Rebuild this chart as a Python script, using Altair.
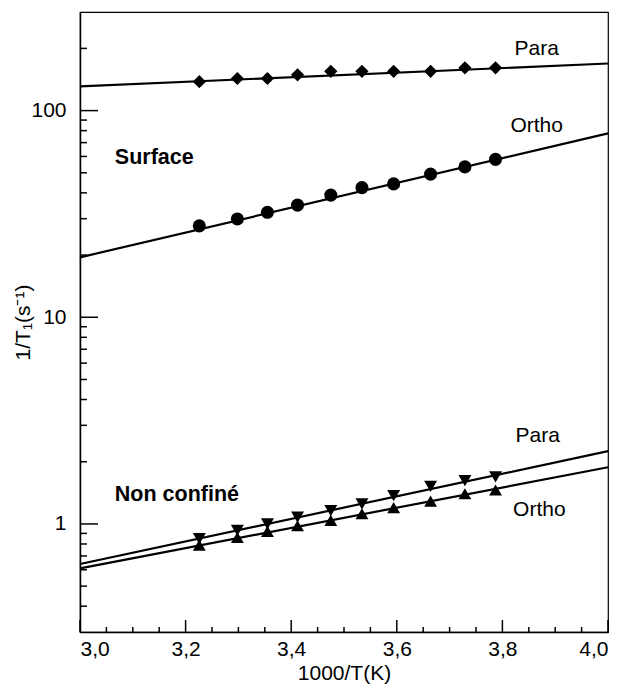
import altair as alt
import pandas as pd

# ---- data ----
x_pts = [3.226, 3.298, 3.355, 3.412, 3.475, 3.534, 3.594, 3.664, 3.729, 3.787]
para_surface = [138, 143, 143, 149, 155, 155, 155, 155, 161, 161]
ortho_surface = [27.7, 29.9, 32.2, 34.9, 39.0, 42.4, 44.2, 49.3, 53.4, 58.1]
para_free = [0.85, 0.93, 1.00, 1.08, 1.16, 1.25, 1.37, 1.52, 1.62, 1.69]
ortho_free = [0.79, 0.86, 0.92, 0.98, 1.04, 1.12, 1.20, 1.29, 1.40, 1.46]

fit_x = [3.0, 4.0]
fit_para_surface = [131, 169]
fit_ortho_surface = [19.5, 77.6]
fit_para_free = [0.64, 2.25]
fit_ortho_free = [0.61, 1.88]

label_text = ["Para", "Ortho", "Para", "Ortho"]
label_x = [3.865, 3.865, 3.867, 3.87]
label_y = [199, 84, 2.66, 1.17]

group_text = ["Surface", "Non confiné"]
group_x = [3.066, 3.066]
group_y = [59, 1.38]

y_major = [1, 10, 100]
y_minor = [0.4, 0.5, 0.6, 0.7, 0.8, 0.9, 2, 3, 4, 5, 6, 7, 8, 9,
           20, 30, 40, 50, 60, 70, 80, 90, 200]
x_major = [3.0, 3.2, 3.4, 3.6, 3.8, 4.0]
x_minor = [3.05, 3.1, 3.15, 3.25, 3.3, 3.35, 3.45, 3.5, 3.55,
           3.65, 3.7, 3.75, 3.85, 3.9, 3.95]

W, H = 528, 620
FONT = "Liberation Sans"
X0, X1 = 3.0, 4.0
Y0, Y1 = 0.3, 300

xs = alt.Scale(domain=[X0, X1], nice=False, zero=False)
ys = alt.Scale(type="log", domain=[Y0, Y1], nice=False)

pts = pd.DataFrame({
    "x": x_pts * 4,
    "y": para_surface + ortho_surface + para_free + ortho_free,
    "s": ["ps"] * 10 + ["os"] * 10 + ["pf"] * 10 + ["of"] * 10,
})
fits = pd.DataFrame({
    "x": fit_x * 4,
    "y": fit_para_surface + fit_ortho_surface + fit_para_free + fit_ortho_free,
    "s": ["ps"] * 2 + ["os"] * 2 + ["pf"] * 2 + ["of"] * 2,
})

X = alt.X("x:Q", scale=xs, title="1000/T(K)",
          axis=alt.Axis(values=x_major,
                        labelExpr="replace(format(datum.value, '.1f'), '.', ',')"))
Y = alt.Y("y:Q", scale=ys, title="1/T₁(s⁻¹)",
          axis=alt.Axis(values=y_major, format="d", titleX=-47))

lines = alt.Chart(fits).mark_line(color="black", strokeWidth=2.2).encode(
    x=X, y=Y, detail="s:N")

series = ["ps", "os", "pf", "of"]
points = alt.Chart(pts).mark_point(filled=True, color="black", opacity=1).encode(
    x=alt.X("x:Q", scale=xs),
    y=alt.Y("y:Q", scale=ys),
    shape=alt.Shape("s:N", scale=alt.Scale(domain=series,
                    range=["diamond", "circle", "triangle-down", "triangle-up"]), legend=None),
    size=alt.Size("s:N", scale=alt.Scale(domain=series, range=[175, 165, 210, 210]), legend=None),
)

labels = alt.Chart(pd.DataFrame({"t": label_text, "x": label_x, "y": label_y})).mark_text(
    font=FONT, fontSize=21, align="center", baseline="middle", color="black"
).encode(x=alt.X("x:Q", scale=xs), y=alt.Y("y:Q", scale=ys), text="t:N")

groups = alt.Chart(pd.DataFrame({"t": group_text, "x": group_x, "y": group_y})).mark_text(
    font=FONT, fontSize=21.5, fontWeight="bold", align="left", baseline="middle", color="black"
).encode(x=alt.X("x:Q", scale=xs), y=alt.Y("y:Q", scale=ys), text="t:N")


def ytick_layer(vals, length_px):
    # inward tick on the left edge: from the domain start, length_px pixels into the plot
    frac = length_px / W
    return alt.Chart(pd.DataFrame({"ty": vals})).transform_calculate(
        a=f"{X0}", b=f"{X0} + {frac} * ({X1} - {X0})"
    ).mark_rule(color="#000000", strokeWidth=1.5).encode(
        y=alt.Y("ty:Q", scale=ys),
        x=alt.X("a:Q", scale=xs),
        x2="b:Q",
    )


def xtick_layer(vals, length_px):
    # inward tick on the bottom edge of the log axis
    frac = length_px / H
    return alt.Chart(pd.DataFrame({"tx": vals})).transform_calculate(
        a=f"{Y0}", b=f"{Y0} * pow({Y1} / {Y0}, {frac})"
    ).mark_rule(color="#000000", strokeWidth=1.5).encode(
        x=alt.X("tx:Q", scale=xs),
        y=alt.Y("a:Q", scale=ys),
        y2="b:Q",
    )


ymaj = ytick_layer(y_major, 18)
ymin = ytick_layer(y_minor, 7)
xmaj = xtick_layer(x_major, 12)
xmin = xtick_layer(x_minor, 5)

chart = alt.layer(lines, points, labels, groups, ymaj, ymin, xmaj, xmin).properties(
    width=W, height=H,
    autosize=alt.AutoSizeParams(type="none"),
    padding={"left": 72, "top": 4, "right": 16, "bottom": 53},
).configure_view(
    stroke="black", strokeWidth=1.2
).configure_axis(
    ticks=False, domain=True, domainColor="black", domainWidth=1.5,
    labelFont=FONT, labelFontSize=21, labelColor="black",
    titleFont=FONT, titleFontSize=21, titleFontWeight="normal", titleColor="black",
).configure_axisX(
    labelPadding=6, titlePadding=3, grid=False
).configure_axisY(
    labelPadding=14, grid=False
)

chart.save("out.html", embed_options={"renderer": "svg", "actions": False})
